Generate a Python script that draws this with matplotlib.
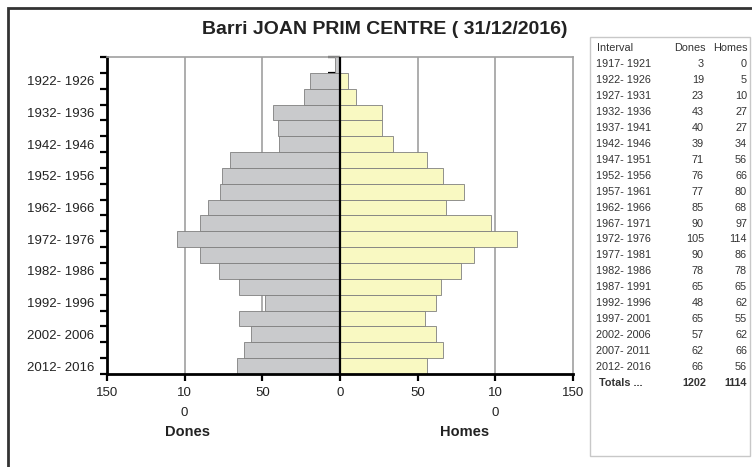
import matplotlib
matplotlib.use("Agg")
import matplotlib.pyplot as plt
from matplotlib.patches import Rectangle

plt.rcParams['font.family'] = ['Liberation Sans', 'DejaVu Sans']

intervals = ["1917- 1921", "1922- 1926", "1927- 1931", "1932- 1936", "1937- 1941",
             "1942- 1946", "1947- 1951", "1952- 1956", "1957- 1961", "1962- 1966",
             "1967- 1971", "1972- 1976", "1977- 1981", "1982- 1986", "1987- 1991",
             "1992- 1996", "1997- 2001", "2002- 2006", "2007- 2011", "2012- 2016"]
dones = [3, 19, 23, 43, 40, 39, 71, 76, 77, 85, 90, 105, 90, 78, 65, 48, 65, 57, 62, 66]
homes = [0, 5, 10, 27, 27, 34, 56, 66, 80, 68, 97, 114, 86, 78, 65, 62, 55, 62, 66, 56]
xtick_vals = [-150, -100, -50, 0, 50, 100, 150]
xtick_labels = ["150", "10\n0", "50", "0", "50", "10\n0", "150"]
title = "Barri JOAN PRIM CENTRE ( 31/12/2016)"
total_dones = 1202
total_homes = 1114

W, H = 752, 467
fig = plt.figure(figsize=(W / 100, H / 100), dpi=100)

def fx(px):
    return px / W

def fy(py):
    return 1 - py / H

# outer frame
fig.add_artist(Rectangle((fx(8), fy(472)), fx(770) - fx(8), fy(8) - fy(472),
                         transform=fig.transFigure, fill=False, edgecolor='#333333', lw=2))

ax = fig.add_axes([fx(107), fy(374), fx(573) - fx(107), fy(57) - fy(374)])
n = len(intervals)
ypos = list(range(n))
ax.barh(ypos, [-d for d in dones], height=1.0, color='#C9CACC', edgecolor='#7f7f7f', lw=0.6, zorder=2)
ax.barh(ypos, homes, height=1.0, color='#F9F9C2', edgecolor='#7f7f7f', lw=0.6, zorder=2)

ax.set_xlim(-150, 150)
ax.set_ylim(n - 0.5, -0.5)

for v in [-100, -50, 50, 100]:
    ax.axvline(v, color='#a0a0a0', lw=1.2, zorder=1)
ax.axvline(0, color='black', lw=1.6, zorder=3)

ax.set_xticks(xtick_vals)
ax.set_xticklabels(xtick_labels, fontsize=9.5, color='#222222', linespacing=1.9)
ax.tick_params(axis='x', length=5, width=1.6, color='black', pad=4)

ax.set_yticks(ypos[1::2])
ax.set_yticklabels(intervals[1::2], fontsize=9.5, color='#222222')
ax.tick_params(axis='y', which='major', length=0, pad=9)
bounds = [i - 0.5 for i in range(n + 1)]
ax.set_yticks(bounds, minor=True)
ax.tick_params(axis='y', which='minor', length=5, width=1.6, color='black')

for s in ['left', 'bottom']:
    ax.spines[s].set_color('black')
    ax.spines[s].set_linewidth(2)
for s in ['top', 'right']:
    ax.spines[s].set_color('#a0a0a0')
    ax.spines[s].set_linewidth(1.2)

# center axis ticks
sec = ax.secondary_yaxis(0.5)
sec.set_yticks(bounds)
sec.set_yticklabels([])
sec.tick_params(axis='y', direction='in', length=9, width=1.6, color='black')
sec.spines['right'].set_visible(False)
sec.spines['left'].set_visible(False)

fig.text(fx(385), fy(30), title, ha='center', va='center', fontsize=14,
         fontweight='bold', color='#222222')
fig.text(fx(187), fy(432), "Dones", ha='center', va='center', fontsize=10.5,
         fontweight='bold', color='#222222')
fig.text(fx(465), fy(432), "Homes", ha='center', va='center', fontsize=10.5,
         fontweight='bold', color='#222222')

# data table
fig.add_artist(Rectangle((fx(590), fy(456)), fx(750) - fx(590), fy(37) - fy(456),
                         transform=fig.transFigure, fill=False, edgecolor='#c8c8c8', lw=1))
tfs = 7.8
tc = '#333333'
fig.text(fx(597), fy(48), "Interval", ha='left', va='center', fontsize=tfs, color=tc)
fig.text(fx(706), fy(48), "Dones", ha='right', va='center', fontsize=tfs, color=tc)
fig.text(fx(748), fy(48), "Homes", ha='right', va='center', fontsize=tfs, color=tc)
row_h = 15.95
for i in range(n):
    yy = 64 + i * row_h
    fig.text(fx(596), fy(yy), intervals[i], ha='left', va='center', fontsize=tfs, color=tc)
    fig.text(fx(704), fy(yy), str(dones[i]), ha='right', va='center', fontsize=tfs, color=tc)
    fig.text(fx(747), fy(yy), str(homes[i]), ha='right', va='center', fontsize=tfs, color=tc)
yy = 64 + n * row_h
fig.text(fx(599), fy(yy), "Totals ...", ha='left', va='center', fontsize=tfs, color=tc, fontweight='bold')
fig.text(fx(706), fy(yy), str(total_dones), ha='right', va='center', fontsize=tfs, color=tc, fontweight='bold')
fig.text(fx(747), fy(yy), str(total_homes), ha='right', va='center', fontsize=tfs, color=tc, fontweight='bold')

fig.savefig("out.png", dpi=100)
